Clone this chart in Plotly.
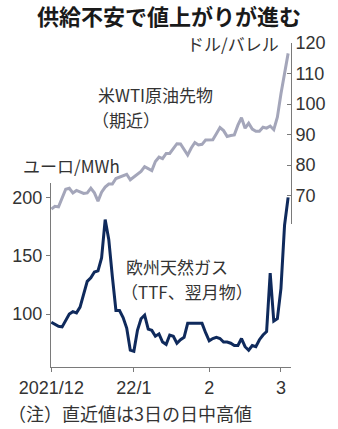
import pandas as pd
import plotly.graph_objects as go

# trading days (weekdays) from 2021-12-01 to 2022-03-03
dates = [d.strftime("%Y-%m-%d") for d in pd.bdate_range("2021-12-01", "2022-03-03")]

# WTI crude futures, front month (USD/barrel) - right axis
wti = [65.6, 66.5, 66.3, 69.5, 72.1, 72.4, 70.9, 71.7, 71.3, 70.7,
       70.9, 72.4, 70.9, 68.2, 71.1, 72.8, 73.8, 73.8, 75.6, 76.0,
       76.6, 77.0, 75.2,
       76.1, 77.0, 77.9, 79.5, 78.9, 78.2, 81.2, 82.6, 82.1, 83.8,
       83.8, 85.4, 87.0, 86.9, 85.1, 83.3, 85.6, 87.4, 86.6, 86.8,
       88.2,
       88.2, 88.3, 90.3, 92.3, 91.3, 89.4, 89.7, 89.9, 93.1, 95.5,
       92.1, 93.7, 91.8, 91.1, 91.1, 92.4, 92.1, 92.8, 91.6, 95.7,
       103.4, 110.6, 116.6]

# European natural gas TTF, next month (EUR/MWh) - left axis
ttf = [93, 91, 89.5, 89, 94, 100, 102, 101, 106, 118,
       128, 131, 136, 137, 148, 181, 164, 132, 103, 103,
       97, 88, 69,
       68, 86, 96, 99, 87, 86, 81, 83, 76, 74,
       82, 81, 75, 78, 80, 92, 92, 92, 92, 92,
       84,
       77, 79, 80, 79, 76, 76, 75, 73, 73, 79,
       72, 69, 73, 72, 78, 82, 85, 135, 94, 96,
       122, 176, 200]

tick_dates = ["2021-12-01", "2022-01-03", "2022-02-01", "2022-03-01"]
tick_labels = ["2021/12", "22/1", "2", "3"]
ttf_ticks = [100, 150, 200]
wti_ticks = [70, 80, 90, 100, 110, 120]

W, H = 338, 429
L, R, T, B = 40, 40, 43, 62
PW, PH = W - L - R, H - T - B


def px(x):
    return (x - L) / PW


def py(y):
    return (H - B - y) / PH


JP = "Noto Sans CJK JP"
NUM = "Liberation Sans Narrow, Arial Narrow, sans-serif"
AX = "#7a7a7a"
TXT = "#333333"

fig = go.Figure()
fig.add_trace(go.Scatter(x=dates, y=wti, yaxis="y2", mode="lines",
                         line=dict(color="#a4a6ba", width=3), hoverinfo="skip"))
fig.add_trace(go.Scatter(x=dates, y=ttf, yaxis="y", mode="lines",
                         line=dict(color="#0f2a5c", width=3), hoverinfo="skip"))

fig.update_layout(
    width=W, height=H,
    margin=dict(l=L, r=R, t=T, b=B),
    paper_bgcolor="white", plot_bgcolor="rgba(0,0,0,0)",
    showlegend=False,
    title=dict(text="<b>供給不安で値上がりが進む</b>", x=0.5, xref="container", xanchor="center",
               y=1 - 17 / H, yref="container", yanchor="middle",
               font=dict(family=JP, size=22, color="#1a1a1a")),
    xaxis=dict(type="category", range=[-0.1, 66.8], anchor="y", domain=[0, 1],
               showline=True, linecolor=AX, linewidth=1, showgrid=False, zeroline=False,
               ticks="outside", ticklen=4, tickcolor=AX, tickwidth=1,
               tickmode="array", tickvals=tick_dates, ticktext=tick_labels,
               tickfont=dict(family=NUM, size=18, color=TXT)),
    yaxis=dict(domain=[0, py(183)], range=[54.6, 212.3], anchor="x", side="left",
               showline=True, linecolor=AX, linewidth=1, showgrid=False, zeroline=False,
               ticks="outside", ticklen=4, tickcolor=AX, tickwidth=1,
               tickmode="array", tickvals=ttf_ticks,
               tickfont=dict(family=NUM, size=18, color=TXT)),
    yaxis2=dict(domain=[py(224), 1], range=[60.7, 120], anchor="x", side="right",
                showline=True, linecolor=AX, linewidth=1, showgrid=False, zeroline=False,
                ticks="inside", ticklen=4, tickcolor=AX, tickwidth=1,
                tickmode="array", tickvals=wti_ticks,
                tickfont=dict(family=NUM, size=18, color=TXT)),
)

anns = [
    ("ドル/バレル", 287, 43, "right", 17),
    ("ユーロ/MWh", 8, 165, "left", 17),
    ("米WTI原油先物", 88, 94, "left", 17),
    ("（期近）", 82, 119, "left", 17),
    ("欧州天然ガス", 118, 266.5, "left", 17),
    ("（TTF、翌月物）", 113, 291.5, "left", 17),
    ("（注）直近値は3日の日中高値", -8, 413, "left", 18),
]
for text, x, y, xa, size in anns:
    fig.add_annotation(text=text, xref="paper", yref="paper", x=px(x), y=py(y),
                       xanchor=xa, yanchor="middle", align="left", showarrow=False,
                       font=dict(family=JP, size=size, color=TXT))

fig.write_html("out.html")
